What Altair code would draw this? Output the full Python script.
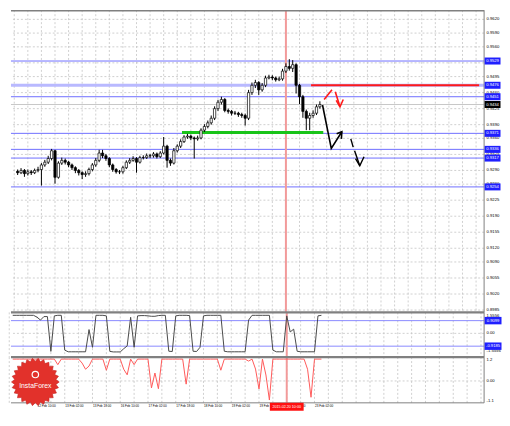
import math
import altair as alt
import pandas as pd

# ---------------- layout constants ----------------
W = 476
H_MAIN, H_IND1, H_IND2 = 304, 45, 46
X_DOMAIN = [-0.5, 135.9]
Y_MAIN = [0.89799, 0.96400]
Y_IND1 = [-1.70, 1.50]
Y_IND2 = [-1.10, 1.20]
FONT = "Liberation Sans"

# ---------------- data: H2 candles ----------------
open0 = 0.9288
closes = [0.9285, 0.9290, 0.9283, 0.9287, 0.9285, 0.9290, 0.9292, 0.9302, 0.9308, 0.9316,
          0.9333, 0.9275, 0.9306, 0.9312, 0.9308, 0.9302, 0.9296, 0.9290, 0.9285, 0.9281,
          0.9283, 0.9292, 0.9302, 0.9312, 0.9328, 0.9322, 0.9316, 0.9302, 0.9292, 0.9287,
          0.9287, 0.9296, 0.9308, 0.9312, 0.9316, 0.9308, 0.9318, 0.9318, 0.9322, 0.9322,
          0.9326, 0.9320, 0.9328, 0.9343, 0.9312, 0.9306, 0.9333, 0.9343, 0.9353, 0.9363,
          0.9365, 0.9361, 0.9359, 0.9361, 0.9378, 0.9386, 0.9394, 0.9404, 0.9425, 0.9439,
          0.9445, 0.9421, 0.9419, 0.9415, 0.9415, 0.9412, 0.9410, 0.9404, 0.9460, 0.9476,
          0.9482, 0.9466, 0.9476, 0.9492, 0.9494, 0.9492, 0.9488, 0.9490, 0.9507, 0.9517,
          0.9513, 0.9521, 0.9476, 0.9451, 0.9419, 0.9404, 0.9410, 0.9415, 0.9429, 0.9434]
highs = [0.9292, 0.9295, 0.9293, 0.9292, 0.9291, 0.9294, 0.9298, 0.9306, 0.9313, 0.9322,
         0.9337, 0.9335, 0.9310, 0.9318, 0.9316, 0.9311, 0.9305, 0.9299, 0.9293, 0.9288,
         0.9288, 0.9296, 0.9306, 0.9317, 0.9335, 0.9335, 0.9326, 0.9319, 0.9305, 0.9295,
         0.9291, 0.9300, 0.9312, 0.9317, 0.9321, 0.9319, 0.9322, 0.9323, 0.9327, 0.9326,
         0.9330, 0.9329, 0.9332, 0.9363, 0.9346, 0.9316, 0.9339, 0.9347, 0.9358, 0.9367,
         0.9370, 0.9368, 0.9364, 0.9366, 0.9382, 0.9391, 0.9399, 0.9410, 0.9430, 0.9444,
         0.9451, 0.9448, 0.9425, 0.9422, 0.9420, 0.9418, 0.9416, 0.9414, 0.9466, 0.9482,
         0.9488, 0.9485, 0.9481, 0.9497, 0.9499, 0.9498, 0.9495, 0.9495, 0.9512, 0.9524,
         0.9533, 0.9531, 0.9524, 0.9479, 0.9455, 0.9423, 0.9416, 0.9421, 0.9434, 0.9441]
lows = [0.9280, 0.9282, 0.9276, 0.9279, 0.9280, 0.9282, 0.9286, 0.9257, 0.9298, 0.9304,
        0.9312, 0.9261, 0.9272, 0.9302, 0.9303, 0.9297, 0.9291, 0.9284, 0.9279, 0.9271,
        0.9276, 0.9279, 0.9288, 0.9298, 0.9308, 0.9317, 0.9311, 0.9297, 0.9287, 0.9283,
        0.9282, 0.9283, 0.9293, 0.9304, 0.9309, 0.9285, 0.9305, 0.9314, 0.9315, 0.9317,
        0.9318, 0.9316, 0.9317, 0.9325, 0.9296, 0.9300, 0.9303, 0.9329, 0.9339, 0.9350,
        0.9359, 0.9356, 0.9316, 0.9355, 0.9358, 0.9374, 0.9382, 0.9390, 0.9400, 0.9420,
        0.9434, 0.9417, 0.9414, 0.9410, 0.9411, 0.9407, 0.9405, 0.9388, 0.9400, 0.9455,
        0.9470, 0.9455, 0.9462, 0.9472, 0.9489, 0.9487, 0.9484, 0.9485, 0.9486, 0.9503,
        0.9508, 0.9505, 0.9458, 0.9435, 0.9405, 0.9378, 0.9378, 0.9405, 0.9411, 0.9425]

# ---------------- data: indicators ----------------
osc_gray = [1.29, 1.29, 1.29, 1.29, 1.29, 1.29, 1.29, 1.16, 0.95, 1.2,
            1.2, -1.29, 1.25, 1.29, 1.29, -1.2, -1.32, -1.32, -1.32, -1.32,
            -1.32, -1.32, 0.27, -1.0, 1.29, 1.29, 1.29, 1.25, -1.29, -1.33,
            -1.33, -1.33, -1.1, -0.9, 1.15, -1.0, 1.25, 1.27, 1.27, 1.25,
            1.22, 1.22, 1.27, 1.29, 1.29, -1.28, -1.3, 1.25, 1.29, 1.29,
            1.29, 1.27, -1.28, -1.3, -1.0, 1.25, 1.29, 1.29, 1.29, 1.29,
            1.29, -1.28, -1.32, -1.32, -1.32, -1.32, -1.32, -1.32, 0.95, 1.29,
            1.29, 1.29, 1.29, 1.29, 1.29, -1.2, -1.32, -1.32, -1.32, 1.25,
            0.1, 0.3, -1.28, -1.32, -1.32, -1.32, -1.32, -1.32, 1.25, 1.29]
osc_red = [1.1, 1.1, 1.1, 1.1, 1.1, 1.1, 1.1, 1.1, 1.1, 1.1,
           1.1, 1.1, 1.1, 0.82, 1.1, 1.1, 1.1, 1.1, 1.1, 1.1,
           0.9, 0.59, 0.75, 1.1, 1.1, 1.1, 1.1, 0.54, 1.1, 1.1,
           1.1, 1.1, 0.59, 0.31, 1.1, 0.82, 1.1, 1.1, 1.1, 1.1,
           -0.35, 0.4, -0.39, 1.1, 1.1, 1.1, 1.1, 1.1, 1.1, 1.1,
           -0.16, 1.1, 1.1, 1.1, 1.1, 1.1, 1.1, 1.1, 1.1, 1.1,
           0.54, 1.1, 1.1, 1.1, 1.1, 1.1, 1.1, 1.1, 1.0, 1.1,
           0.6, -0.4, 1.1, 0.3, -0.96, 1.1, 1.1, 1.1, 1.1, 1.1,
           1.1, 1.1, 1.1, 1.1, 1.1, 0.59, -0.82, 1.1, 1.1, 1.1]

# ---------------- axis texts / levels ----------------
price_tick_labels = ["0.9620", "0.9590", "0.9560", "0.9495", "0.9460", "0.9425", "0.9390",
                     "0.9360", "0.9325", "0.9290", "0.9260", "0.9225", "0.9190", "0.9155",
                     "0.9120", "0.9090", "0.9055", "0.9020", "0.8985"]
price_grid = [0.9620, 0.9590, 0.9560, 0.9525, 0.9495, 0.9460, 0.9425, 0.9390, 0.9360,
              0.9325, 0.9290, 0.9260, 0.9225, 0.9190, 0.9155, 0.9120, 0.9090, 0.9055,
              0.9020, 0.8985]
level_labels = ["0.9529", "0.9451", "0.9371", "0.9336", "0.9317", "0.9254"]
resist_label = "0.9476"
last_label = "0.9434"

green_i = [48.4, 90.0]
green_p = [0.9373, 0.9373]
red_seg_i = [86.4, 135.9]

time_ticks = [7, 15, 23, 31, 39, 47, 55, 63, 71, 79, 87]
time_labels = ["12 Feb 10:00", "13 Feb 02:00", "13 Feb 18:00", "16 Feb 10:00", "17 Feb 02:00",
               "17 Feb 18:00", "18 Feb 10:00", "19 Feb 02:00", "19 Feb 18:00", "20 Feb 10:00",
               "23 Feb 02:00"]
vline_i = 79
vline_label = "2015.02.20 10:00"

ind1_level_labels = ["0.9099", "-0.9185"]
ind1_max_label, ind1_min_label = "1.5556", "-1.5556"
ind2_labels = ["1.2", "0.00", "-1.1"]

# hand-drawn annotations (bar index, price)
red_arrow = [("a", 90.25, 0.9445), ("a", 92.56, 0.9466),
             ("b", 93.53, 0.9462), ("b", 94.92, 0.9429),
             ("c", 93.81, 0.9443), ("c", 94.92, 0.9429), ("c", 95.89, 0.9445)]
black_arrow = [("a", 89.78, 0.9433), ("a", 92.36, 0.9338), ("a", 95.47, 0.93745),
               ("b", 93.94, 0.9370), ("b", 95.47, 0.93745), ("b", 95.33, 0.9359)]
black_dash = [("a", 98.11, 0.9359), ("a", 98.81, 0.9341),
              ("b", 99.22, 0.9333), ("b", 100.75, 0.9300),
              ("c", 99.5, 0.9316), ("c", 100.75, 0.9300), ("c", 102.0, 0.9320)]

# ---------------- helpers ----------------
XS = alt.Scale(domain=X_DOMAIN, nice=False, zero=False)


def X(f="i"):
    return alt.X(f"{f}:Q", scale=XS, axis=None)


def Yf(f, dom):
    return alt.Y(f"{f}:Q", scale=alt.Scale(domain=dom, nice=False, zero=False), axis=None)


def seg_df(rows):
    return pd.DataFrame({"seg": [r[0] for r in rows], "i": [r[1] for r in rows],
                         "p": [r[2] for r in rows], "k": list(range(len(rows)))})


BOX16 = "M-1,-0.44L1,-0.44L1,0.44L-1,0.44Z"
BOXDATE = "M-1,-0.235L1,-0.235L1,0.235L-1,0.235Z"
star_pts = []
NSPK = 26
for k in range(2 * NSPK):
    r = 1.0 if k % 2 == 0 else 0.87
    a = math.pi * k / NSPK
    star_pts.append(f"{r * math.cos(a):.3f},{r * math.sin(a):.3f}")
STAR = "M" + "L".join(star_pts) + "Z"

GRID = dict(color="#c4c4c4", strokeDash=[2, 2], strokeWidth=0.8)
BLUE_LINE = "#6f6fff"
BOX_BLUE = "#1f1fff"
LBL = dict(align="left", baseline="middle", fontSize=4.2, font=FONT, color="#000000", dx=2.5)

n = len(closes)
idx = list(range(n))
bars = pd.DataFrame({"i": idx, "open": [open0] + closes[:-1], "close": closes,
                     "high": highs, "low": lows})
vgrid = pd.DataFrame({"i": list(range(-1, 136, 4))})
vline = pd.DataFrame({"i": [vline_i], "lab": [vline_label]})
sep = pd.DataFrame({"z": [0]})

# ---------------- main panel ----------------
YM = lambda f: Yf(f, Y_MAIN)
lvl_df = pd.DataFrame({"p": [float(s) for s in level_labels], "lab": level_labels})
res_df = pd.DataFrame({"p": [float(resist_label)], "lab": [resist_label]})
last_df = pd.DataFrame({"p": [float(last_label)], "lab": [last_label]})
tick_df = pd.DataFrame({"p": [float(s) for s in price_tick_labels], "lab": price_tick_labels})
grid_df = pd.DataFrame({"p": price_grid})
box_df = pd.concat([lvl_df, res_df])

main_layers = [
    alt.Chart(grid_df).mark_rule(**GRID).encode(y=YM("p")),
    alt.Chart(vgrid).mark_rule(**GRID).encode(x=X()),
    alt.Chart(last_df).mark_rule(color="#c8c8c8", strokeWidth=1).encode(y=YM("p")),
    alt.Chart(res_df).mark_rule(color="#b9b9ff", strokeWidth=3).encode(y=YM("p")),
    alt.Chart(lvl_df).mark_rule(color=BLUE_LINE, strokeWidth=1).encode(y=YM("p")),
    alt.Chart(vline).mark_rule(color="#f29a9a", strokeWidth=2).encode(x=X()),
    alt.Chart(pd.DataFrame({"i0": [red_seg_i[0]], "i1": [red_seg_i[1]], "p": [float(resist_label)]}))
    .mark_rule(color="#ff1a1a", strokeWidth=2).encode(x=X("i0"), x2="i1:Q", y=YM("p")),
    alt.Chart(pd.DataFrame({"i": green_i, "p": green_p})).mark_line(color="#19c419", strokeWidth=3)
    .encode(x=X(), y=YM("p")),
    alt.Chart(bars).mark_rule(color="#000000", strokeWidth=1).encode(x=X(), y=YM("low"), y2="high:Q"),
    alt.Chart(bars).mark_bar(width=2.3, stroke="#000000", strokeWidth=0.7).encode(
        x=X(), y=YM("open"), y2="close:Q",
        fill=alt.when(alt.datum.close >= alt.datum.open).then(alt.value("#ffffff"))
        .otherwise(alt.value("#000000"))),
    alt.Chart(seg_df(red_arrow)).mark_line(color="#ff1a1a", strokeWidth=1.6)
    .encode(x=X(), y=YM("p"), detail="seg:N", order="k:Q"),
    alt.Chart(seg_df(black_arrow)).mark_line(color="#000000", strokeWidth=1.6)
    .encode(x=X(), y=YM("p"), detail="seg:N", order="k:Q"),
    alt.Chart(seg_df(black_dash)).mark_line(color="#000000", strokeWidth=1.4)
    .encode(x=X(), y=YM("p"), detail="seg:N", order="k:Q"),
    alt.Chart(sep).mark_rule(color="#808080", strokeWidth=1.5)
    .encode(x=alt.value(0), x2=alt.value(W), y=alt.value(0.5)),
    alt.Chart(sep).mark_rule(color="#808080", strokeWidth=1)
    .encode(x=alt.value(W), y=alt.value(0), y2=alt.value(H_MAIN)),
    alt.Chart(tick_df).mark_text(**LBL).encode(x=alt.value(W), y=YM("p"), text="lab:N"),
    alt.Chart(box_df).mark_point(shape=BOX16, size=256, filled=True, color=BOX_BLUE, opacity=1,
                                 strokeWidth=0).encode(x=alt.value(W + 8.5), y=YM("p")),
    alt.Chart(last_df).mark_point(shape=BOX16, size=256, filled=True, color="#000000", opacity=1,
                                  strokeWidth=0).encode(x=alt.value(W + 8.5), y=YM("p")),
    alt.Chart(pd.concat([box_df, last_df])).mark_text(align="center", baseline="middle", fontSize=4.2,
                                                      font=FONT, color="#ffffff")
    .encode(x=alt.value(W + 8.5), y=YM("p"), text="lab:N"),
]
main = alt.layer(*main_layers).properties(width=W, height=H_MAIN)

# ---------------- indicator 1 ----------------
Y1 = lambda f: Yf(f, Y_IND1)
ind1_df = pd.DataFrame({"i": idx, "v": osc_gray})
ind1_lv = pd.DataFrame({"v": [float(s) for s in ind1_level_labels], "lab": ind1_level_labels})
ind1_layers = [
    alt.Chart(vgrid).mark_rule(**GRID).encode(x=X()),
    alt.Chart(pd.DataFrame({"v": [0.0]})).mark_rule(**GRID).encode(y=Y1("v")),
    alt.Chart(ind1_lv).mark_rule(color="#8a8aff", strokeWidth=1).encode(y=Y1("v")),
    alt.Chart(vline).mark_rule(color="#f29a9a", strokeWidth=2).encode(x=X()),
    alt.Chart(ind1_df).mark_line(color="#4a4a4a", strokeWidth=1).encode(x=X(), y=Y1("v")),
    alt.Chart(sep).mark_rule(color="#808080", strokeWidth=2.2)
    .encode(x=alt.value(0), x2=alt.value(W), y=alt.value(0)),
    alt.Chart(sep).mark_rule(color="#808080", strokeWidth=1)
    .encode(x=alt.value(W), y=alt.value(0), y2=alt.value(H_IND1)),
    alt.Chart(pd.DataFrame({"v": [1.5556], "lab": [ind1_max_label]}))
    .mark_text(**LBL, dy=4).encode(x=alt.value(W), y=Y1("v"), text="lab:N"),
    alt.Chart(pd.DataFrame({"v": [0.0], "lab": ["0.00"]}))
    .mark_text(**LBL).encode(x=alt.value(W), y=Y1("v"), text="lab:N"),
    alt.Chart(pd.DataFrame({"v": [-1.5556], "lab": [ind1_min_label]}))
    .mark_text(**LBL, dy=-4).encode(x=alt.value(W), y=Y1("v"), text="lab:N"),
    alt.Chart(ind1_lv).mark_point(shape=BOX16, size=289, filled=True, color=BOX_BLUE, opacity=1,
                                  strokeWidth=0).encode(x=alt.value(W + 9), y=Y1("v")),
    alt.Chart(ind1_lv).mark_text(align="center", baseline="middle", fontSize=4.2, font=FONT,
                                 color="#ffffff").encode(x=alt.value(W + 9), y=Y1("v"), text="lab:N"),
]
ind1 = alt.layer(*ind1_layers).properties(width=W, height=H_IND1)

# ---------------- indicator 2 ----------------
Y2 = lambda f: Yf(f, Y_IND2)
ind2_df = pd.DataFrame({"i": idx, "v": osc_red})
time_df = pd.DataFrame({"i": time_ticks, "lab": time_labels})
ind2_layers = [
    alt.Chart(vgrid).mark_rule(**GRID).encode(x=X()),
    alt.Chart(pd.DataFrame({"v": [0.0]})).mark_rule(**GRID).encode(y=Y2("v")),
    alt.Chart(vline).mark_rule(color="#f29a9a", strokeWidth=2).encode(x=X()),
    alt.Chart(ind2_df).mark_line(color="#ff5a5a", strokeWidth=1).encode(x=X(), y=Y2("v")),
    alt.Chart(sep).mark_rule(color="#808080", strokeWidth=2.2)
    .encode(x=alt.value(0), x2=alt.value(W), y=alt.value(0)),
    alt.Chart(sep).mark_rule(color="#808080", strokeWidth=1)
    .encode(x=alt.value(0), x2=alt.value(W), y=alt.value(H_IND2)),
    alt.Chart(sep).mark_rule(color="#808080", strokeWidth=1)
    .encode(x=alt.value(W), y=alt.value(0), y2=alt.value(H_IND2)),
    alt.Chart(pd.DataFrame({"v": [1.2], "lab": [ind2_labels[0]]}))
    .mark_text(**LBL, dy=3).encode(x=alt.value(W), y=Y2("v"), text="lab:N"),
    alt.Chart(pd.DataFrame({"v": [0.0], "lab": [ind2_labels[1]]}))
    .mark_text(**LBL).encode(x=alt.value(W), y=Y2("v"), text="lab:N"),
    alt.Chart(pd.DataFrame({"v": [-1.1], "lab": [ind2_labels[2]]}))
    .mark_text(**LBL, dy=-2).encode(x=alt.value(W), y=Y2("v"), text="lab:N"),
    alt.Chart(time_df).mark_text(align="left", baseline="middle", fontSize=3.1, font=FONT,
                                 color="#000000", dx=0.5)
    .encode(x=X(), y=alt.value(H_IND2 + 3.5), text="lab:N"),
    alt.Chart(vline).mark_point(shape=BOXDATE, size=1156, filled=True, color="#ff1010", opacity=1,
                                strokeWidth=0).encode(x=X(), y=alt.value(H_IND2 + 4)),
    alt.Chart(vline).mark_text(align="center", baseline="middle", fontSize=3.7, font=FONT,
                               color="#ffffff").encode(x=X(), y=alt.value(H_IND2 + 4), text="lab:N"),
    # InstaForex badge
    alt.Chart(sep).mark_point(shape=STAR, size=2304, filled=True, color="#e2312b", opacity=1,
                              stroke="#c52420", strokeWidth=0.6)
    .encode(x=alt.value(24.5), y=alt.value(25)),
    alt.Chart(sep).mark_point(shape="circle", size=42, filled=False, color="#ffffff", opacity=1,
                              strokeWidth=1.2).encode(x=alt.value(24.5), y=alt.value(17.5)),
    alt.Chart(pd.DataFrame({"lab": ["InstaForex"]})).mark_text(
        align="center", baseline="middle", fontSize=6.9, font=FONT, color="#ffffff")
    .encode(x=alt.value(24.5), y=alt.value(29.5), text="lab:N"),
]
ind2 = alt.layer(*ind2_layers).properties(width=W, height=H_IND2)

chart = (
    alt.vconcat(main, ind1, ind2, spacing=0, bounds="flush")
    .resolve_scale(x="independent", y="independent")
    .properties(padding=0, background="#ffffff")
    .configure_view(stroke=None)
)

chart.save("out.html", embed_options={"renderer": "svg", "actions": False})
